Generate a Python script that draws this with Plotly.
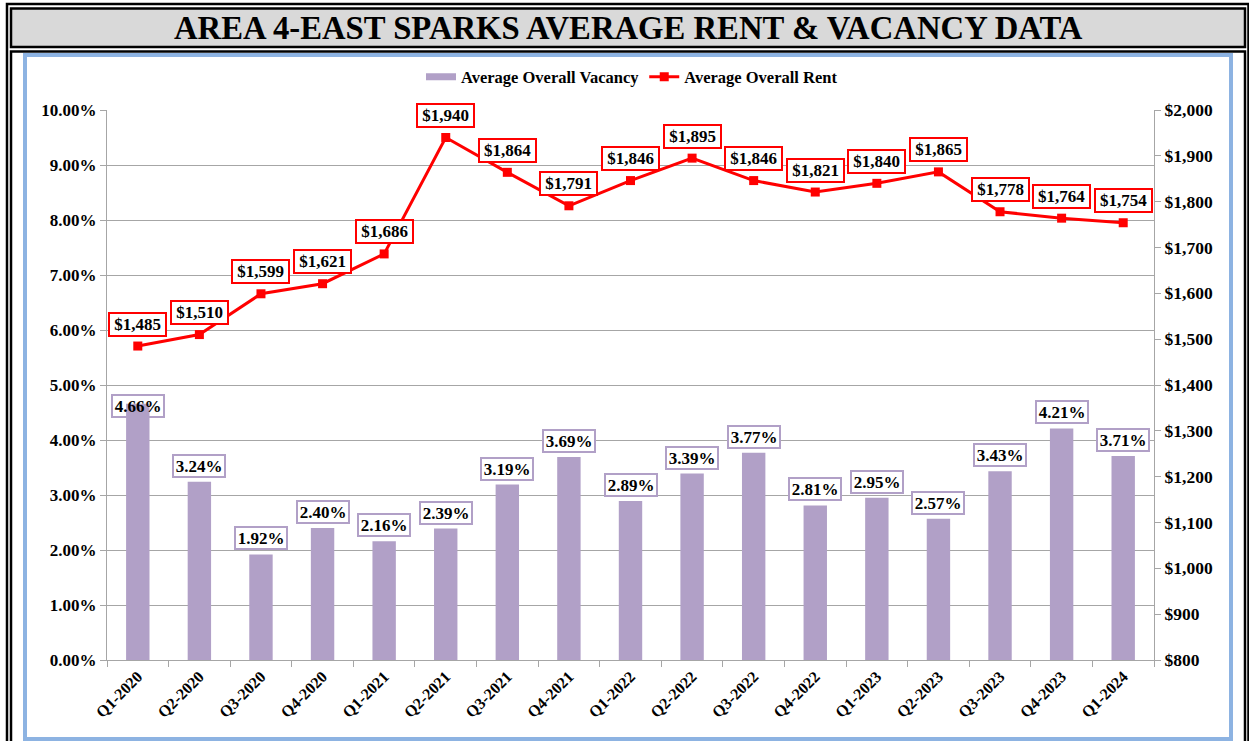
import plotly.graph_objects as go

categories = ["Q1-2020", "Q2-2020", "Q3-2020", "Q4-2020", "Q1-2021", "Q2-2021",
              "Q3-2021", "Q4-2021", "Q1-2022", "Q2-2022", "Q3-2022", "Q4-2022",
              "Q1-2023", "Q2-2023", "Q3-2023", "Q4-2023", "Q1-2024"]
vacancy = [4.66, 3.24, 1.92, 2.40, 2.16, 2.39, 3.19, 3.69, 2.89, 3.39, 3.77,
           2.81, 2.95, 2.57, 3.43, 4.21, 3.71]
rent = [1485, 1510, 1599, 1621, 1686, 1940, 1864, 1791, 1846, 1895, 1846,
        1821, 1840, 1865, 1778, 1764, 1754]
title_text = "AREA 4-EAST SPARKS AVERAGE RENT & VACANCY DATA"
vac_name = "Average Overall Vacancy"
rent_name = "Average Overall Rent"

W, H = 1249, 741
L, R, T, B = 107, 1154, 110, 660
FONT = "Liberation Serif"
BAR_C = "#b1a0c7"
RED = "#ff0000"
GRID = "#a6a6a6"


def px(x):
    return (x - L) / (R - L)


def py(y):
    return (B - y) / (B - T)


fig = go.Figure()
fig.add_trace(go.Bar(x=categories, y=[v / 100 for v in vacancy], name=vac_name,
                     marker=dict(color=BAR_C, line=dict(width=0)), yaxis="y",
                     showlegend=False))
# legend entry for the bars (wide flat swatch like the original)
fig.add_trace(go.Scatter(x=[None], y=[None], name="<b>" + vac_name + "</b>", mode="lines",
                         line=dict(color=BAR_C, width=7), yaxis="y", showlegend=True))
fig.add_trace(go.Scatter(x=categories, y=rent, name="<b>" + rent_name + "</b>",
                         mode="lines+markers",
                         line=dict(color=RED, width=3),
                         marker=dict(symbol="square", size=9, color=RED), yaxis="y2"))

ann = []
for i, (c, v) in enumerate(zip(categories, vacancy)):
    shift = -2 if i == 0 else 16
    ann.append(dict(x=c, y=v / 100, xref="x", yref="y", text="<b>%.2f%%</b>" % v,
                    showarrow=False, yshift=shift, width=48, height=18,
                    font=dict(family=FONT, size=17, color="black"),
                    bgcolor="rgba(0,0,0,0)" if i == 0 else "white",
                    bordercolor=BAR_C, borderwidth=2, borderpad=1))
for c, r in zip(categories, rent):
    ann.append(dict(x=c, y=r, xref="x", yref="y2", text="<b>$%s</b>" % format(r, ","),
                    showarrow=False, yshift=22, width=53, height=19,
                    font=dict(family=FONT, size=17, color="black"),
                    bgcolor="white", bordercolor=RED, borderwidth=2, borderpad=1))
ann.append(dict(x=px(628), y=py(28), xref="paper", yref="paper",
                text="<b>" + title_text.replace("&", "&amp;") + "</b>", showarrow=False,
                font=dict(family=FONT, size=32.7, color="black"),
                xanchor="center", yanchor="middle"))

shapes = [
    dict(type="rect", xref="paper", yref="paper", x0=px(25), x1=px(1231), y0=py(55), y1=py(739),
         line=dict(color="#8db3e2", width=4), fillcolor="white", layer="below"),
    dict(type="rect", xref="paper", yref="paper", x0=px(11), x1=px(1245), y0=py(8.5), y1=py(47),
         line=dict(color="black", width=2.5), fillcolor="#d9d9d9", layer="below"),
    dict(type="rect", xref="paper", yref="paper", x0=px(11), x1=px(1245), y0=py(51.5), y1=py(748),
         line=dict(color="black", width=2.5), layer="below"),
    dict(type="rect", xref="paper", yref="paper", x0=px(7), x1=px(1248.5), y0=py(4), y1=py(748),
         line=dict(color="black", width=2.5), layer="below"),
]

fig.update_layout(
    width=W, height=H,
    margin=dict(l=L, r=W - R, t=T, b=H - B, autoexpand=False),
    paper_bgcolor="white", plot_bgcolor="rgba(0,0,0,0)",
    font=dict(family=FONT, size=15, color="black"),
    bargap=0.62,
    showlegend=True,
    hovermode=False,
    legend=dict(orientation="h", x=px(632), y=py(77), xanchor="center", yanchor="middle",
                font=dict(family=FONT, size=16.5, color="black"), bgcolor="rgba(0,0,0,0)",
                itemwidth=30, tracegroupgap=0),
    xaxis=dict(type="category", range=[-0.5, 16.5], tickangle=-45, tickson="boundaries",
               ticks="outside", ticklen=6, tickcolor=GRID, showline=True, linecolor=GRID,
               linewidth=1, showgrid=False, tickfont=dict(family=FONT, size=16, color="black"),
               tickprefix="<b>", ticksuffix="</b>"),
    yaxis=dict(range=[0, 0.1], dtick=0.01, tickformat=".2%", showgrid=True, gridcolor=GRID,
               gridwidth=1, showline=True, linecolor=GRID, ticks="outside", ticklen=6,
               tickcolor=GRID, zeroline=False, tickfont=dict(family=FONT, size=17, color="black"),
               tickprefix="<b>", ticksuffix="</b>"),
    yaxis2=dict(range=[800, 2000], dtick=100, tickformat=",", tickprefix="<b>$",
                ticksuffix="</b>", overlaying="y", side="right", showgrid=False, showline=True,
                linecolor=GRID, ticks="outside", ticklen=6, tickcolor=GRID, zeroline=False,
                tickfont=dict(family=FONT, size=17.5, color="black")),
    annotations=ann, shapes=shapes,
)

fig.write_html("out.html", config={"displayModeBar": False},
               post_script="document.body.style.margin='0';")
